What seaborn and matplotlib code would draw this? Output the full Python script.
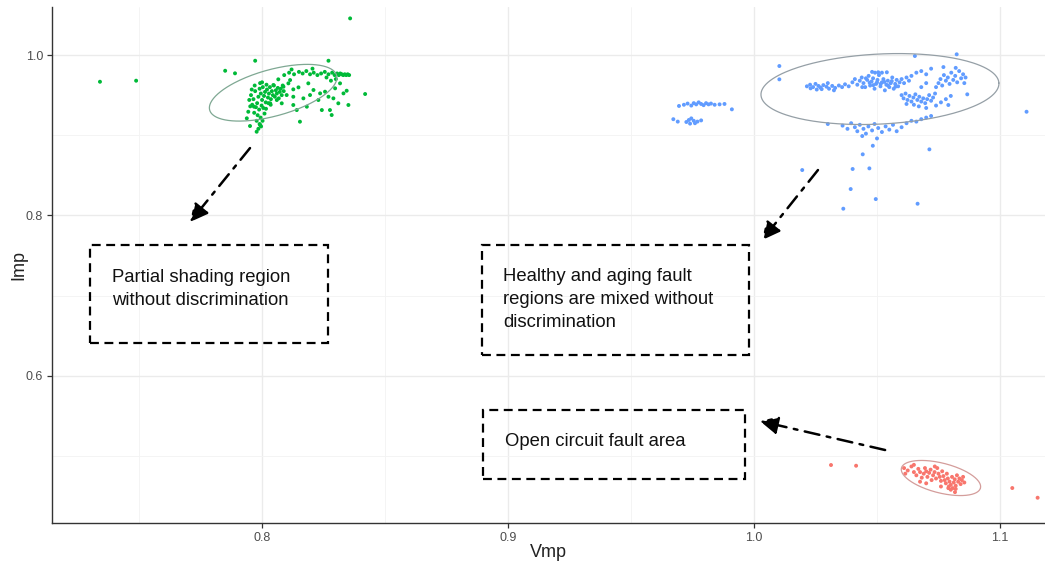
import numpy as np
import pandas as pd
import matplotlib
matplotlib.use("Agg")
import matplotlib.pyplot as plt
from matplotlib.patches import Rectangle
import seaborn as sns

# ---------------- data ----------------
ps_x = [0.7955,0.7965,0.7972,0.7980,0.7985,0.7990,0.7995,0.8000,0.8003,0.8008,0.8012,0.8015,0.8020,0.8024,0.8028,
        0.8032,0.8036,0.8040,0.8044,0.8048,0.8052,0.8056,0.8060,0.8064,0.8068,0.8072,0.7960,0.7975,0.7988,0.7998,
        0.8005,0.7968,0.7982,0.7994,0.7978,0.7990,0.7985,0.7996,0.8002,0.8010,0.8016,0.7958,0.7948,0.7952,0.8076,
        0.8080,0.8084,0.8088,0.8018,0.7992,0.8000,0.8026,0.8035,0.7970,0.7978,0.7951,0.7992,0.7938,0.7944,0.7967,
        0.8090,0.8110,0.8130,0.8150,0.8165,0.8180,0.8195,0.8210,0.8225,0.8240,0.8255,0.8270,0.8285,0.8295,0.8305,
        0.8312,0.8318,0.8324,0.8330,0.8336,0.8342,0.8348,0.8354,0.8300,0.8280,0.8262,0.8120,0.8205,
        0.8066,0.8107,0.8127,0.8148,0.8188,0.8209,0.8127,0.8168,0.8195,0.8236,0.8270,0.8290,0.8331,0.8344,0.8351,
        0.8310,0.8283,0.8243,0.8276,0.8154,0.8141,0.8127,0.8229,0.8182,0.8087,0.8100,0.8114,0.8046,0.8060,0.8080,
        0.8033,0.8419,0.8256,0.8297,0.8317,0.8270,0.7972,0.7850,0.7890,0.7341,0.7488,0.8358]
ps_y = [0.950,0.945,0.955,0.940,0.948,0.958,0.952,0.944,0.960,0.949,0.954,0.941,0.957,0.947,0.952,
        0.960,0.945,0.955,0.950,0.962,0.948,0.956,0.952,0.959,0.946,0.954,0.938,0.935,0.932,0.937,
        0.934,0.928,0.925,0.922,0.918,0.914,0.908,0.911,0.918,0.927,0.933,0.957,0.944,0.936,0.958,
        0.950,0.962,0.955,0.963,0.965,0.966,0.940,0.938,0.962,0.9044,0.9115,0.9127,0.9211,0.9293,0.9356,
        0.975,0.978,0.976,0.979,0.977,0.980,0.976,0.978,0.975,0.977,0.979,0.976,0.978,0.975,0.977,
        0.975,0.977,0.976,0.975,0.976,0.975,0.976,0.975,0.970,0.968,0.972,0.982,0.983,
        0.9697,0.9647,0.9572,0.9597,0.9647,0.9564,0.9480,0.9460,0.9501,0.9522,0.9480,0.9460,0.9522,0.9555,0.9377,
        0.9398,0.9252,0.9314,0.9314,0.9169,0.9314,0.9377,0.9439,0.9356,0.9605,0.9501,0.9688,0.9626,0.9439,0.9398,
        0.9398,0.9514,0.9543,0.9585,0.9647,0.9929,0.9929,0.9804,0.9772,0.9667,0.9680,1.0457]

hl_x = [0.9695,0.9715,0.9730,0.9745,0.9755,0.9765,0.9775,0.9785,0.9795,0.9805,0.9815,0.9825,0.9840,0.9860,0.9880,0.9910,
        0.9672,0.9690,0.9725,0.9735,0.9745,0.9755,0.9770,0.9785,0.9740,0.9760,
        1.0215,1.0228,1.0240,1.0250,1.0262,1.0270,1.0282,1.0295,1.0305,1.0318,1.0330,1.0345,1.0358,1.0370,1.0385,
        1.0230,1.0255,1.0275,1.0300,1.0325,
        1.0400,1.0410,1.0420,1.0430,1.0438,1.0445,1.0452,1.0460,1.0466,1.0472,1.0478,1.0484,1.0490,1.0496,1.0502,
        1.0508,1.0514,1.0520,1.0526,1.0532,1.0538,1.0544,1.0550,1.0556,1.0562,1.0568,1.0574,1.0580,1.0586,1.0592,
        1.0440,1.0455,1.0470,1.0485,1.0500,1.0515,1.0530,1.0545,1.0560,1.0575,1.0492,1.0505,1.0520,1.0540,1.0480,
        1.0600,1.0610,1.0620,1.0630,1.0640,
        1.0600,1.0608,1.0616,1.0624,1.0632,1.0640,1.0648,1.0656,1.0664,1.0672,1.0680,1.0688,1.0696,1.0704,1.0712,
        1.0720,1.0728,1.0736,1.0620,1.0650,1.0670,1.0700,1.0740,1.0760,1.0780,1.0800,
        1.0740,1.0750,1.0758,1.0765,1.0772,1.0780,1.0788,1.0795,1.0802,1.0810,1.0818,1.0826,1.0834,1.0842,1.0850,
        1.0700,1.0680,1.0660,1.0720,1.0770,1.0820,1.0860,1.0855,1.0700,1.0680,
        1.0360,1.0380,1.0395,1.0410,1.0420,1.0430,1.0445,1.0455,1.0465,1.0480,1.0490,1.0505,1.0520,1.0535,1.0550,
        1.0565,1.0580,1.0600,1.0620,1.0640,1.0660,1.0680,1.0700,1.0720,1.0300,1.0440,1.0500,
        1.0103,1.0103,1.0824,1.0654,1.1108,1.0713,1.0483,1.0442,1.0196,1.0401,1.0469,1.0393,1.0495,1.0363,1.0665,
        1.0867,1.0790]
hl_y = [0.9365,0.9380,0.9395,0.9370,0.9400,0.9385,0.9410,0.9390,0.9375,0.9400,0.9385,0.9395,0.9380,0.9385,0.9390,0.9323,
        0.9200,0.9170,0.9165,0.9190,0.9210,0.9180,0.9170,0.9185,0.9145,0.9150,
        0.9610,0.9630,0.9600,0.9640,0.9615,0.9595,0.9625,0.9605,0.9580,0.9615,0.9590,0.9620,0.9600,0.9635,0.9610,
        0.9585,0.9570,0.9575,0.9650,0.9560,
        0.9660,0.9700,0.9630,0.9680,0.9720,0.9650,0.9600,0.9690,0.9740,0.9620,0.9670,0.9710,0.9580,0.9640,0.9690,
        0.9750,0.9610,0.9660,0.9700,0.9560,0.9630,0.9680,0.9600,0.9650,0.9720,0.9580,0.9640,0.9690,0.9610,0.9660,
        0.9600,0.9710,0.9655,0.9625,0.9660,0.9640,0.9665,0.9620,0.9675,0.9605,0.9780,0.9785,0.9780,0.9785,0.9790,
        0.9700,0.9650,0.9720,0.9680,0.9740,
        0.9500,0.9460,0.9520,0.9440,0.9490,0.9420,0.9470,0.9510,0.9440,0.9480,0.9420,0.9460,0.9400,0.9450,0.9500,
        0.9430,0.9470,0.9520,0.9390,0.9380,0.9360,0.9340,0.9370,0.9410,0.9450,0.9490,
        0.9600,0.9650,0.9700,0.9620,0.9750,0.9680,0.9720,0.9640,0.9780,0.9690,0.9740,0.9660,0.9800,0.9710,0.9760,
        0.9760,0.9800,0.9780,0.9830,0.9850,0.9840,0.9720,0.9650,0.9650,0.9600,
        0.9120,0.9080,0.9150,0.9100,0.9050,0.9130,0.9080,0.9020,0.9110,0.9060,0.9140,0.9090,0.9040,0.9110,0.9070,
        0.9130,0.9050,0.9100,0.9150,0.9180,0.9170,0.9200,0.9220,0.9240,0.9140,0.8990,0.8960,
        0.9863,0.9697,1.0009,0.9988,0.9293,0.8824,0.8869,0.8762,0.8566,0.8579,0.8587,0.8329,0.8204,0.8084,0.8146,
        0.9510,0.9377]

oc_x = [1.0610,1.0615,1.0625,1.0640,1.0650,1.0660,1.0668,1.0675,1.0682,1.0690,1.0695,1.0700,1.0705,1.0712,1.0718,
        1.0722,1.0728,1.0734,1.0740,1.0745,1.0750,1.0755,1.0760,1.0765,1.0770,1.0775,1.0780,1.0784,1.0788,1.0792,
        1.0795,1.0800,1.0805,1.0808,1.0812,1.0816,1.0820,1.0825,1.0830,1.0835,1.0840,1.0845,1.0850,1.0855,1.0800,
        1.0820,1.0790,1.0760,1.0700,1.0675,1.0735,1.0650,1.0817,
        1.0313,1.0415,1.1050,1.1153]
oc_y = [0.4850,0.4780,0.4820,0.4870,0.4800,0.4760,0.4840,0.4800,0.4730,0.4780,0.4850,0.4810,0.4740,0.4790,0.4830,
        0.4700,0.4760,0.4800,0.4720,0.4850,0.4780,0.4740,0.4690,0.4810,0.4750,0.4700,0.4660,0.4780,0.4720,0.4620,
        0.4680,0.4640,0.4740,0.4600,0.4670,0.4710,0.4630,0.4760,0.4680,0.4720,0.4650,0.4700,0.4740,0.4670,0.4580,
        0.4590,0.4600,0.4620,0.4660,0.4680,0.4870,0.4890,0.4550,
        0.4888,0.4879,0.4601,0.4480]

groups = ["Partial shading", "Healthy/aging", "Open circuit"]
group_colors = ["#00BA38", "#619CFF", "#F8766D"]

# ellipse parameters (data units): centre, semi-major vector, semi-minor vector
ell_cx = [0.8045, 1.0512, 1.0760]
ell_cy = [0.9530, 0.9576, 0.4726]
ell_ax = [0.0258, 0.04837, 0.01606]
ell_ay = [0.0216, 0.00748, -0.01247]
ell_bx = [0.00245, 0.00072, -0.00150]
ell_by = [-0.0280, -0.0436, -0.01800]
ell_colors = ["#7fa893", "#959fa6", "#d49d9b"]

x_ticks = [0.8, 0.9, 1.0, 1.1]
y_ticks = [0.6, 0.8, 1.0]

# ---------------- figure ----------------
df = pd.DataFrame({
    "Vmp": ps_x + hl_x + oc_x,
    "Imp": ps_y + hl_y + oc_y,
    "grp": [groups[0]] * len(ps_x) + [groups[1]] * len(hl_x) + [groups[2]] * len(oc_x),
})

sns.set_theme(style="white")
plt.rcParams["font.family"] = ["Liberation Sans", "DejaVu Sans"]

fig = plt.figure(figsize=(10.45, 5.66), dpi=100)
ax = fig.add_axes([52 / 1045, 1 - 523 / 566, 1 - 52 / 1045, (523 - 7) / 566])

ax.set_xlim(0.7146, 1.1183)
ax.set_ylim(0.4165, 1.0599)
ax.set_xticks(x_ticks)
ax.set_xticklabels([f"{t:.1f}" for t in x_ticks])
ax.set_yticks(y_ticks)
ax.set_yticklabels([f"{t:.1f}" for t in y_ticks])
ax.set_xticks([0.75, 0.85, 0.95, 1.05], minor=True)
ax.set_yticks([0.5, 0.7, 0.9], minor=True)
ax.grid(True, which="major", color="#EBEBEB", lw=1.0)
ax.grid(True, which="minor", color="#F3F3F3", lw=0.6)
ax.set_axisbelow(True)

sns.scatterplot(data=df, x="Vmp", y="Imp", hue="grp", hue_order=groups,
                palette=dict(zip(groups, group_colors)), s=8, linewidth=0,
                legend=False, ax=ax, zorder=3)

t = np.linspace(0, 2 * np.pi, 240)
for i in range(3):
    ex = ell_cx[i] + ell_ax[i] * np.cos(t) + ell_bx[i] * np.sin(t)
    ey = ell_cy[i] + ell_ay[i] * np.cos(t) + ell_by[i] * np.sin(t)
    ax.plot(ex, ey, color=ell_colors[i], lw=0.9, zorder=4)

for side in ["top", "right"]:
    ax.spines[side].set_visible(False)
for side in ["left", "bottom"]:
    ax.spines[side].set_color("#333333")
    ax.spines[side].set_linewidth(1.0)
ax.tick_params(axis="both", which="major", length=3.5, width=0.9, color="#333333",
               labelsize=9, labelcolor="#4D4D4D", pad=3, bottom=True, left=True)
ax.tick_params(axis="both", which="minor", length=0)
ax.set_xlabel("Vmp", fontsize=13, color="#222222", labelpad=0)
ax.set_ylabel("Imp", fontsize=13, color="#222222", labelpad=-1)

# annotation boxes
boxes = [(0.7301, 0.6409, 0.8268, 0.7631), (0.8894, 0.6259, 0.9980, 0.7631), (0.8898, 0.4713, 0.9963, 0.5574)]
for (x0, y0, x1, y1) in boxes:
    ax.add_patch(Rectangle((x0, y0), x1 - x0, y1 - y0, fill=False, ec="black",
                           lw=1.6, ls=(0, (4, 2.5)), zorder=5))

ax.text(0.7390, 0.7082, "Partial shading region\nwithout discrimination", fontsize=13.3,
        va="center", ha="left", color="#111111", linespacing=1.4, zorder=6)
ax.text(0.8980, 0.6951, "Healthy and aging fault\nregions are mixed without\ndiscrimination", fontsize=13.3,
        va="center", ha="left", color="#111111", linespacing=1.45, zorder=6)
ax.text(0.8988, 0.5187, "Open circuit fault area", fontsize=13.3,
        va="center", ha="left", color="#111111", zorder=6)

arrows = [((0.7951, 0.8840), (0.7707, 0.7918)),
          ((1.0260, 0.8566), (1.0033, 0.7693)),
          ((1.0533, 0.5075), (1.0024, 0.5436))]
for (start, end) in arrows:
    ax.annotate("", xy=end, xytext=start,
                arrowprops=dict(arrowstyle="-|>,head_length=0.9,head_width=0.45",
                                color="black", lw=1.8, ls=(0, (6, 3, 1.5, 3)),
                                shrinkA=0, shrinkB=0), zorder=6)

fig.savefig("out.png", dpi=100)
